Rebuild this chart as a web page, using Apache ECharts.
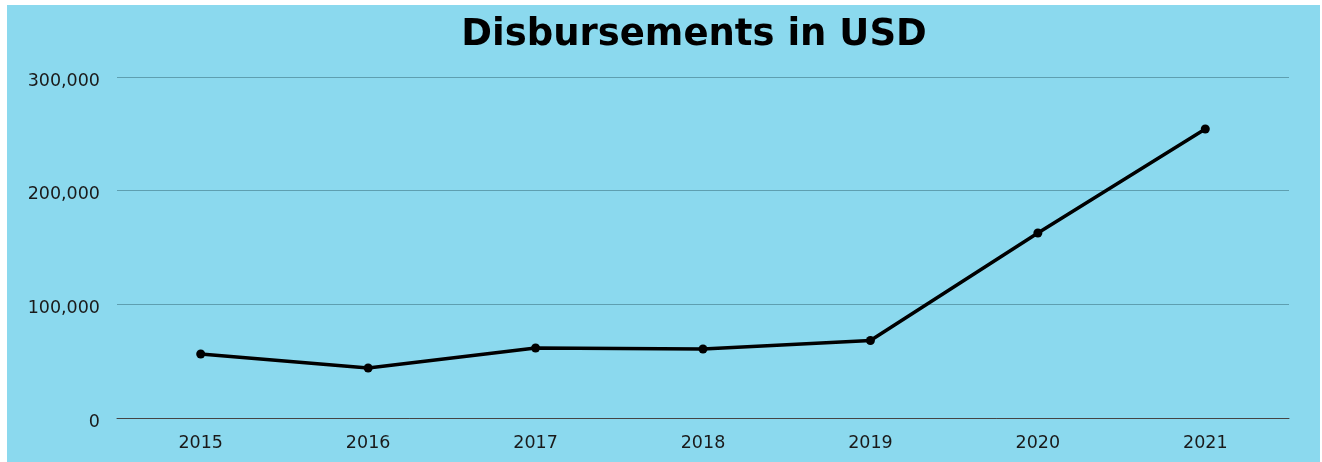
<!DOCTYPE html>
<html>
<head>
<meta charset="utf-8">
<script src="https://cdn.jsdelivr.net/npm/echarts@6/dist/echarts.min.js"></script>
<style>
html,body{margin:0;padding:0;background:#fff;width:1322px;height:462px;overflow:hidden;}
#chart{position:absolute;left:7px;top:5px;width:1313px;height:457px;background:#8BD9EE;}
</style>
</head>
<body>
<div id="chart"></div>
<script>
const categories = ['2015','2016','2017','2018','2019','2020','2021'];
const disbursements = [56300, 44000, 61600, 60700, 68200, 162800, 254300];
const yTicks = [0, 100000, 200000, 300000];

const chart = echarts.init(document.getElementById('chart'), null, {renderer:'canvas'});
chart.setOption({
  backgroundColor: '#8BD9EE',
  animation: false,
  title: {
    text: 'Disbursements in USD',
    left: 682, top: 7, textAlign: 'center',
    textStyle: {fontFamily: 'DejaVu Sans', fontWeight: 'bold', fontSize: 37, color: '#000'}
  },
  grid: {left: 110, top: 72, width: 1172, height: 341, containLabel: false},
  xAxis: {
    type: 'category', data: categories, boundaryGap: true,
    axisLine: {show: true, lineStyle: {color: '#444', width: 1}},
    axisTick: {show: false},
    axisLabel: {fontFamily: 'DejaVu Sans', fontSize: 17.5, color: '#1a1a1a', margin: 16}
  },
  yAxis: {
    type: 'value', min: yTicks[0], max: yTicks[yTicks.length-1], interval: 100000,
    axisLine: {show: false}, axisTick: {show: false},
    splitLine: {lineStyle: {color: '#5E9FB0', width: 1}},
    axisLabel: {fontFamily: 'DejaVu Sans', fontSize: 17.5, color: '#1a1a1a', margin: 17,
      formatter: v => '{v|' + v.toLocaleString('en-US') + '}',
      rich: {v: {fontFamily: 'DejaVu Sans', fontSize: 17.5, color: '#1a1a1a', padding: [8, 0, 0, 0]}}}
  },
  series: [{
    type: 'line', data: disbursements,
    lineStyle: {color: '#000', width: 3.5},
    itemStyle: {color: '#000'},
    symbol: 'circle', symbolSize: 9, showSymbol: true
  }]
});
</script>
</body>
</html>
